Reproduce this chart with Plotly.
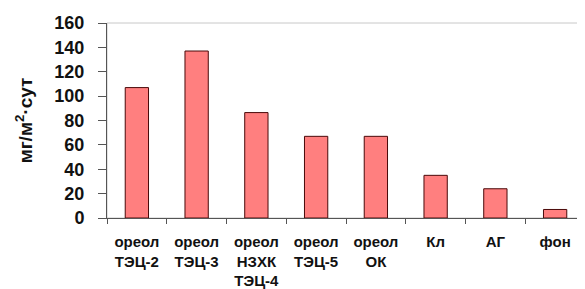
import plotly.graph_objects as go

categories = ["ореол<br>ТЭЦ-2", "ореол<br>ТЭЦ-3", "ореол<br>НЗХК<br>ТЭЦ-4", "ореол<br>ТЭЦ-5",
              "ореол<br>ОК", "Кл", "АГ", "фон"]
values = [107, 137, 86.5, 67, 67, 35, 24, 7]
y_ticks = [0, 20, 40, 60, 80, 100, 120, 140, 160]

FONT = "Liberation Sans, Arial, sans-serif"

fig = go.Figure()
fig.add_trace(go.Bar(
    x=categories, y=values,
    marker=dict(color="#FF7F7F", line=dict(color="#4a0a0a", width=1)),
))

# page body has an 8px margin; figure sized so the plot area lands where the reference's is
fig.update_layout(
    width=577, height=281,
    margin=dict(l=99, r=0, t=15, b=71),
    paper_bgcolor="white", plot_bgcolor="white",
    bargap=0.61,
    showlegend=False,
    font=dict(family=FONT, color="#111111"),
    shapes=[dict(type="rect", xref="paper", yref="paper", x0=0, y0=0, x1=1, y1=1,
                 line=dict(color="#c8c8c8", width=1), layer="below")],
)
fig.update_xaxes(
    type="category", showline=True, linecolor="#555555", linewidth=1,
    ticks="outside", ticklen=5, tickcolor="#555555", tickson="boundaries",
    ticklabelstandoff=10,
    tickfont=dict(size=15, family=FONT, weight="bold"),
    showgrid=False, zeroline=False, automargin=False,
)
fig.update_yaxes(
    range=[0, 160], tickvals=y_ticks, showline=True, linecolor="#555555", linewidth=1,
    ticks="outside", ticklen=8, tickcolor="#555555", ticklabelstandoff=10,
    tickfont=dict(size=18, family=FONT, weight="bold"),
    showgrid=False, zeroline=False, automargin=False,
    title=dict(text="мг/м<sup>2</sup>·сут", standoff=16,
               font=dict(size=19, family=FONT, weight="bold")),
)
fig.write_html("out.html")
